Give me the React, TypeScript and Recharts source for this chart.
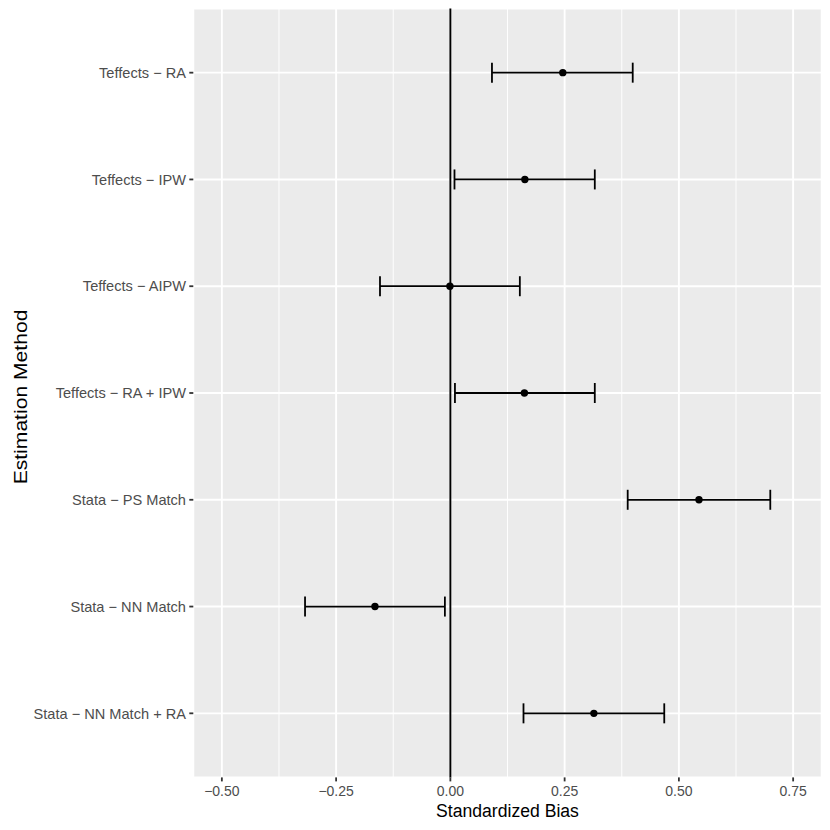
import React from "react";
import {
  ScatterChart,
  Scatter,
  XAxis,
  YAxis,
  CartesianGrid,
  ErrorBar,
  ReferenceLine,
  Label,
} from "recharts";

const methods = [
  "Teffects − RA",
  "Teffects − IPW",
  "Teffects − AIPW",
  "Teffects − RA + IPW",
  "Stata − PS Match",
  "Stata − NN Match",
  "Stata − NN Match + RA",
];
const estimate = [0.246, 0.163, -0.001, 0.162, 0.544, -0.165, 0.314];
const lower = [0.091, 0.009, -0.154, 0.01, 0.388, -0.318, 0.16];
const upper = [0.399, 0.316, 0.152, 0.316, 0.7, -0.012, 0.468];

const xTicks = [-0.5, -0.25, 0, 0.25, 0.5, 0.75];
const xMinor = [-0.375, -0.125, 0.125, 0.375, 0.625];
const yTicks = methods.map((_, i) => i);

const chartData = methods.map((m, i) => ({
  method: m,
  pos: i,
  est: estimate[i],
  err: [estimate[i] - lower[i], upper[i] - estimate[i]],
}));

const FONT = '"Liberation Sans", Arial, Helvetica, sans-serif';

const fmtX = (v: number) => v.toFixed(2).replace("-", "\u2212");

const XTitle = ({ viewBox }: any) => (
  <text
    x={viewBox.x + viewBox.width / 2}
    y={viewBox.y + 40}
    textAnchor="middle"
    fontSize={17.6}
    fill="#000"
    fontFamily={FONT}
  >
    Standardized Bias
  </text>
);

// the y title in the reference is drawn longer than it is tall
const YTitle = ({ viewBox }: any) => {
  const cx = viewBox.x + 26.5;
  const cy = viewBox.y + viewBox.height / 2 + 4;
  return (
    <text
      x={0}
      y={0}
      transform={`translate(${cx}, ${cy}) rotate(-90) scale(1.2, 1)`}
      textAnchor="middle"
      fontSize={17.6}
      fill="#000"
      fontFamily={FONT}
    >
      Estimation Method
    </text>
  );
};

const Dot = (props: any) => <circle cx={props.cx} cy={props.cy} r={3.7} fill="#000" />;

export default function App() {
  return (
    <div style={{ position: "absolute", left: 0, top: 0, background: "#fff" }}>
      <ScatterChart
        width={830}
        height={830}
        margin={{ top: 8.6, right: 8.3, bottom: 0, left: 0 }}
        style={{ fontFamily: FONT }}
      >
        <CartesianGrid
          fill="#EBEBEB"
          stroke="#FFFFFF"
          strokeWidth={0.95}
          horizontal={false}
          verticalValues={xMinor}
        />
        <CartesianGrid stroke="#FFFFFF" strokeWidth={1.9} />
        <XAxis
          type="number"
          dataKey="est"
          domain={[-0.5625, 0.8125]}
          allowDataOverflow
          ticks={xTicks}
          tickFormatter={fmtX}
          axisLine={false}
          tickSize={4}
          tickMargin={4.4}
          tickLine={{ stroke: "#333333", strokeWidth: 1.8 }}
          tick={{ fill: "#4D4D4D", fontSize: 14 }}
          height={52.6}
        >
          <Label content={XTitle} />
        </XAxis>
        <YAxis
          type="number"
          dataKey="pos"
          domain={[-0.6, 6.6]}
          allowDataOverflow
          reversed
          ticks={yTicks}
          interval={0}
          tickFormatter={(i: number) => methods[i]}
          axisLine={false}
          tickSize={4}
          tickMargin={3.3}
          tickLine={{ stroke: "#333333", strokeWidth: 1.8 }}
          tick={{ fill: "#4D4D4D", fontSize: 14.6 }}
          width={193.3}
        >
          <Label content={YTitle} />
        </YAxis>
        <ReferenceLine x={0} stroke="#000" strokeWidth={1.9} />
        <Scatter data={chartData} shape={Dot} isAnimationActive={false}>
          <ErrorBar
            dataKey="err"
            direction="x"
            width={10}
            stroke="#000"
            strokeWidth={1.8}
            isAnimationActive={false}
          />
        </Scatter>
      </ScatterChart>
    </div>
  );
}
